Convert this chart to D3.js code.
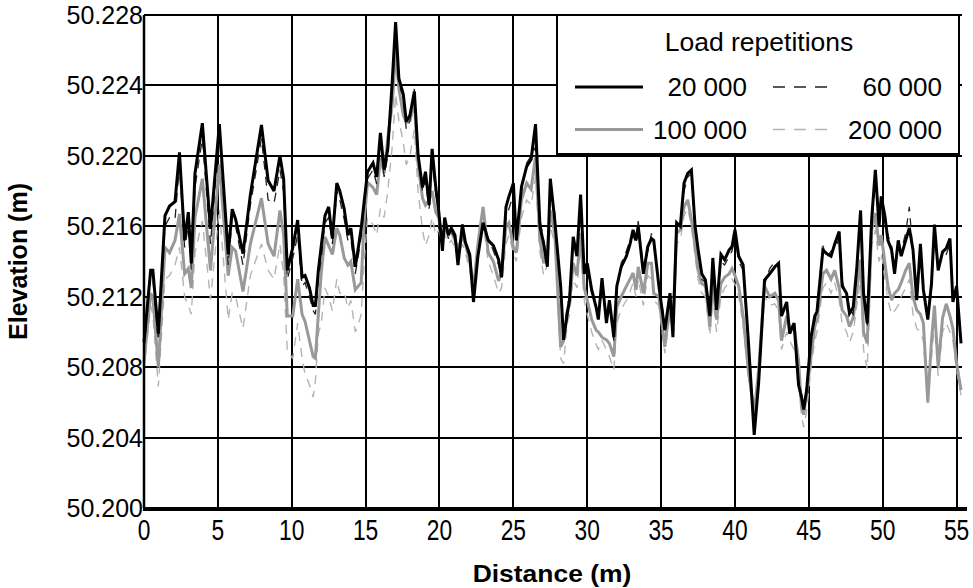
<!DOCTYPE html>
<html>
<head>
<meta charset="utf-8">
<script src="https://cdn.jsdelivr.net/npm/d3@7"></script>
<style>
body { margin: 0; background: #fff; }
text { font-family: Arial, "Liberation Sans", sans-serif; fill: #000; }
</style>
</head>
<body>
<svg id="chart" width="973" height="588"></svg>
<script>
// distance along the profile (m)
var distance = [0, 0.45, 0.6, 0.97, 1.42, 1.73, 2.1, 2.4, 2.75, 3,
	3.2, 3.45, 3.95, 4.5, 5.1, 5.7, 5.97, 6.2, 6.7, 7.2,
	7.95, 8.4, 8.8, 9.2, 9.45, 9.7, 10.07, 10.4, 10.7, 10.9,
	11.2, 11.45, 11.6, 11.8, 12, 12.25, 12.5, 12.75, 13.05, 13.25,
	13.55, 13.8, 14, 14.3, 14.5, 14.7, 14.9, 15.13, 15.5, 15.75,
	16, 16.25, 16.5, 16.8, 17.03, 17.25, 17.55, 17.75, 18, 18.3,
	18.55, 18.85, 19.05, 19.3, 19.5, 19.75, 19.95, 20.2, 20.35, 20.6,
	20.8, 21.05, 21.25, 21.55, 21.75, 22.05, 22.3, 22.6, 22.95, 23.3,
	23.65, 24, 24.2, 24.5, 24.7, 25, 25.2, 25.55, 25.9, 26.2,
	26.5, 26.8, 27.05, 27.3, 27.5, 27.8, 28.2, 28.4, 28.65, 28.8,
	29.05, 29.3, 29.55, 29.8, 30, 30.3, 30.6, 30.75, 31, 31.3,
	31.5, 31.8, 32, 32.3, 32.65, 32.9, 33.1, 33.3, 33.45, 33.8,
	34.1, 34.35, 34.5, 34.85, 35.25, 35.6, 35.8, 36.05, 36.3, 36.55,
	36.8, 37.05, 37.3, 37.5, 37.75, 38, 38.3, 38.5, 38.75, 39.05,
	39.3, 39.6, 39.8, 40, 40.25, 40.55, 40.9, 41.3, 41.6, 42,
	42.35, 42.7, 42.95, 43.15, 43.5, 43.7, 44, 44.3, 44.5, 44.65,
	44.85, 45.15, 45.4, 45.55, 45.95, 46.2, 46.5, 46.75, 47.05, 47.25,
	47.55, 47.75, 48, 48.25, 48.5, 48.7, 48.95, 49.25, 49.5, 49.75,
	49.9, 50.15, 50.35, 50.6, 50.8, 51.05, 51.25, 51.55, 51.8, 52.05,
	52.3, 52.55, 52.75, 53.05, 53.3, 53.5, 53.75, 54.05, 54.3, 54.55,
	54.75, 55, 55.3];

// elevation (m) after 20 000 load repetitions
var elev20k = [50.2094, 50.2135, 50.2135, 50.2099, 50.2166, 50.21715, 50.2174, 50.2202, 50.2152, 50.2168,
	50.2139, 50.2190, 50.22186, 50.21585, 50.2218, 50.2144, 50.21697, 50.2164, 50.21445, 50.2178,
	50.22175, 50.2186, 50.2180, 50.2200, 50.2187, 50.2135, 50.2148, 50.21635, 50.2131, 50.2132,
	50.2125, 50.2115, 50.2115, 50.2135, 50.2149, 50.2166, 50.2171, 50.2153, 50.21845, 50.2180,
	50.2170, 50.2155, 50.2159, 50.2137, 50.21475, 50.2159, 50.2174, 50.2191, 50.2196, 50.2188,
	50.2213, 50.2192, 50.2204, 50.2242, 50.2276, 50.2244, 50.2235, 50.22195, 50.2223, 50.22365,
	50.22005, 50.2182, 50.2191, 50.2172, 50.2204, 50.2182, 50.21685, 50.2146, 50.2165, 50.2155,
	50.2159, 50.2155, 50.2138, 50.2161, 50.2151, 50.2144, 50.2117, 50.2143, 50.2162, 50.2152,
	50.2149, 50.2141, 50.2131, 50.2171, 50.2177, 50.21845, 50.2152, 50.21825, 50.2194, 50.2198,
	50.2218, 50.2160, 50.2150, 50.2137, 50.2187, 50.21635, 50.2126, 50.20955, 50.21105, 50.2118,
	50.2154, 50.2143, 50.2178, 50.2133, 50.2139, 50.2124, 50.2114, 50.2107, 50.21305, 50.2105,
	50.2118, 50.2097, 50.2126, 50.2137, 50.2143, 50.2150, 50.2158, 50.2152, 50.2160, 50.2133,
	50.21485, 50.2153, 50.2152, 50.2126, 50.2101, 50.2122, 50.2097, 50.2162, 50.2160, 50.21845,
	50.2190, 50.2192, 50.2160, 50.2147, 50.2133, 50.21295, 50.2109, 50.2142, 50.21125, 50.2144,
	50.2141, 50.21465, 50.21485, 50.2158, 50.2143, 50.2138, 50.20955, 50.20415, 50.2071, 50.21295,
	50.2133, 50.2137, 50.2139, 50.2109, 50.2117, 50.2099, 50.2105, 50.2070, 50.2063, 50.2056,
	50.2067, 50.2097, 50.2109, 50.21115, 50.21465, 50.21445, 50.2143, 50.2150, 50.2157, 50.2126,
	50.2122, 50.21105, 50.2114, 50.2137, 50.2169, 50.2122, 50.2105, 50.2164, 50.2192, 50.2160,
	50.2177, 50.21655, 50.2152, 50.21465, 50.2133, 50.2152, 50.2143, 50.2152, 50.2159, 50.21465,
	50.2118, 50.2150, 50.2124, 50.2107, 50.21275, 50.2161, 50.2135, 50.21455, 50.21475, 50.2153,
	50.2117, 50.2126, 50.20935];

// elevation (m) after 60 000 load repetitions
var elev60k = [50.2090, 50.2132, 50.2130, 50.2095, 50.2160, 50.2165, 50.2164, 50.2195, 50.2148, 50.2160,
	50.2135, 50.2182, 50.2210, 50.2150, 50.2212, 50.2138, 50.2165, 50.2160, 50.2138, 50.2172,
	50.2210, 50.2175, 50.2173, 50.2192, 50.2180, 50.2130, 50.2142, 50.2155, 50.2126, 50.2128,
	50.2120, 50.2112, 50.2110, 50.2130, 50.2142, 50.2162, 50.2165, 50.2150, 50.2180, 50.2175,
	50.2164, 50.2152, 50.2153, 50.2133, 50.2143, 50.2154, 50.2170, 50.2187, 50.2192, 50.2184,
	50.2208, 50.2188, 50.2200, 50.2236, 50.2270, 50.2240, 50.2234, 50.2215, 50.2220, 50.2238,
	50.2198, 50.2180, 50.2186, 50.2170, 50.2198, 50.2178, 50.2168, 50.2148, 50.2163, 50.2153,
	50.2157, 50.2153, 50.2140, 50.2158, 50.2150, 50.2142, 50.2120, 50.2145, 50.2160, 50.2153,
	50.2146, 50.2138, 50.2132, 50.2165, 50.2170, 50.2178, 50.2155, 50.2180, 50.2196, 50.2200,
	50.2205, 50.2164, 50.2152, 50.2140, 50.2180, 50.2168, 50.2124, 50.2098, 50.2115, 50.2120,
	50.2150, 50.2145, 50.2170, 50.2136, 50.2135, 50.2122, 50.2115, 50.2110, 50.2125, 50.2108,
	50.2115, 50.2095, 50.2122, 50.2139, 50.2146, 50.2152, 50.2155, 50.2150, 50.2163, 50.2136,
	50.2146, 50.2156, 50.2150, 50.2128, 50.2104, 50.2120, 50.2100, 50.2158, 50.2162, 50.2180,
	50.2188, 50.2190, 50.2158, 50.2145, 50.2130, 50.2128, 50.2112, 50.2136, 50.2115, 50.2140,
	50.2138, 50.2143, 50.2146, 50.2155, 50.2140, 50.2135, 50.2093, 50.2046, 50.2073, 50.2127,
	50.2136, 50.2140, 50.2136, 50.2112, 50.2114, 50.2102, 50.2103, 50.2073, 50.2065, 50.2058,
	50.2065, 50.2099, 50.2106, 50.2114, 50.2149, 50.2142, 50.2146, 50.2147, 50.2153, 50.2129,
	50.2120, 50.2113, 50.2110, 50.2134, 50.2163, 50.2125, 50.2102, 50.2160, 50.2185, 50.2164,
	50.2173, 50.2162, 50.2155, 50.2149, 50.2136, 50.2150, 50.2146, 50.2156, 50.2171, 50.2144,
	50.2122, 50.2146, 50.2126, 50.2110, 50.2124, 50.2155, 50.2138, 50.2142, 50.2144, 50.2150,
	50.2120, 50.2123, 50.2096];

// elevation (m) after 100 000 load repetitions
var elev100k = [50.2083, 50.2122, 50.2120, 50.2080, 50.2148, 50.2145, 50.2152, 50.2167, 50.2133, 50.2136,
	50.2125, 50.2165, 50.2187, 50.2135, 50.2195, 50.2132, 50.2148, 50.2146, 50.2123, 50.2150,
	50.2176, 50.2150, 50.2143, 50.2169, 50.2155, 50.2109, 50.2109, 50.2130, 50.2110, 50.2106,
	50.2095, 50.2086, 50.2085, 50.2110, 50.2134, 50.2154, 50.2149, 50.2144, 50.2159, 50.2155,
	50.2142, 50.2138, 50.2140, 50.2124, 50.2126, 50.2128, 50.2163, 50.2185, 50.2182, 50.2178,
	50.2199, 50.2190, 50.2210, 50.2229, 50.2259, 50.22385, 50.2223, 50.2219, 50.2220, 50.2231,
	50.2195, 50.2176, 50.2172, 50.2175, 50.2180, 50.2168, 50.2165, 50.2152, 50.2159, 50.2156,
	50.2157, 50.2152, 50.21475, 50.2154, 50.2150, 50.2140, 50.2125, 50.2150, 50.2171, 50.2145,
	50.2140, 50.2129, 50.21335, 50.2160, 50.2162, 50.2148, 50.2145, 50.2175, 50.21845, 50.2181,
	50.21995, 50.2152, 50.2139, 50.2145, 50.2169, 50.2156, 50.20915, 50.2095, 50.2112, 50.2118,
	50.2139, 50.2132, 50.2156, 50.2125, 50.2118, 50.2107, 50.2101, 50.2100, 50.2097, 50.20955,
	50.20935, 50.2086, 50.2114, 50.2120, 50.2126, 50.2130, 50.21335, 50.2124, 50.2137, 50.2122,
	50.2139, 50.2139, 50.2122, 50.2120, 50.20915, 50.2116, 50.2105, 50.2156, 50.2158, 50.2171,
	50.2175, 50.2164, 50.21485, 50.2135, 50.21275, 50.2126, 50.2103, 50.2128, 50.2107, 50.21275,
	50.2131, 50.2133, 50.2136, 50.2132, 50.2126, 50.2109, 50.20785, 50.2054, 50.20785, 50.2126,
	50.2120, 50.2122, 50.2118, 50.2095, 50.2109, 50.2103, 50.2103, 50.2084, 50.20575, 50.2053,
	50.2065, 50.2086, 50.2103, 50.2107, 50.2133, 50.2135, 50.2130, 50.2135, 50.2125, 50.21125,
	50.2109, 50.2103, 50.2108, 50.2124, 50.2141, 50.2100, 50.20935, 50.2158, 50.21675, 50.2149,
	50.2155, 50.2139, 50.2126, 50.2118, 50.2122, 50.2124, 50.2128, 50.2135, 50.2139, 50.2120,
	50.21125, 50.2110, 50.2105, 50.2060, 50.2095, 50.2115, 50.2080, 50.2108, 50.2116, 50.2109,
	50.2102, 50.2082, 50.2067];

// elevation (m) after 200 000 load repetitions
var elev200k = [50.2078, 50.2115, 50.2110, 50.2069, 50.2130, 50.2132, 50.2138, 50.2148, 50.2120, 50.2115,
	50.2110, 50.2145, 50.2163, 50.21185, 50.2170, 50.2107, 50.2122, 50.2120, 50.2102, 50.2132,
	50.2150, 50.2135, 50.2130, 50.2150, 50.2132, 50.2089, 50.2085, 50.2105, 50.2085, 50.2076,
	50.2070, 50.2063, 50.2072, 50.2099, 50.2105, 50.2125, 50.2120, 50.2112, 50.2130, 50.2122,
	50.2123, 50.21135, 50.2118, 50.2100, 50.2104, 50.2110, 50.2140, 50.2165, 50.2161, 50.2155,
	50.2170, 50.2165, 50.2180, 50.2205, 50.2235, 50.2220, 50.2208, 50.2195, 50.2200, 50.2215,
	50.2180, 50.2158, 50.2149, 50.2155, 50.2165, 50.2155, 50.2158, 50.2148, 50.2156, 50.2150,
	50.2152, 50.2148, 50.2142, 50.2150, 50.2145, 50.2135, 50.2120, 50.2142, 50.2162, 50.2140,
	50.2132, 50.2122, 50.2125, 50.2150, 50.2155, 50.2145, 50.2140, 50.2165, 50.2175, 50.2172,
	50.2188, 50.2145, 50.2132, 50.2138, 50.2160, 50.2150, 50.2085, 50.2082, 50.2105, 50.2110,
	50.2130, 50.2125, 50.2148, 50.2118, 50.2110, 50.2100, 50.2093, 50.2090, 50.2095, 50.2090,
	50.2086, 50.20785, 50.2105, 50.2113, 50.2118, 50.2123, 50.2128, 50.2120, 50.2130, 50.2115,
	50.2132, 50.2130, 50.2118, 50.2115, 50.2088, 50.2110, 50.2100, 50.2150, 50.2152, 50.2166,
	50.2170, 50.2160, 50.2143, 50.2130, 50.2122, 50.2120, 50.2098, 50.2120, 50.2100, 50.2120,
	50.2125, 50.2128, 50.2130, 50.2127, 50.2120, 50.2104, 50.2075, 50.2052, 50.2075, 50.2120,
	50.2115, 50.2116, 50.2112, 50.2090, 50.2100, 50.2095, 50.2090, 50.2075, 50.2052, 50.2046,
	50.2055, 50.2080, 50.2095, 50.2100, 50.2125, 50.2128, 50.2122, 50.2128, 50.2118, 50.2105,
	50.2100, 50.2094, 50.2100, 50.2115, 50.2130, 50.2090, 50.2079, 50.2148, 50.2158, 50.2140,
	50.2145, 50.2130, 50.2118, 50.2110, 50.2112, 50.2115, 50.2120, 50.2125, 50.2130, 50.2110,
	50.2102, 50.2100, 50.2095, 50.20595, 50.2085, 50.2105, 50.2075, 50.2100, 50.2105, 50.2100,
	50.2095, 50.2078, 50.2064];

var xTicks = [0, 5, 10, 15, 20, 25, 30, 35, 40, 45, 50, 55];
var yTicks = [50.200, 50.204, 50.208, 50.212, 50.216, 50.220, 50.224, 50.228];

var series = [
	{name: "200 000", values: elev200k, color: "#b4b4b4", width: 1.4, dash: "9,7"},
	{name: "100 000", values: elev100k, color: "#999999", width: 3, dash: null},
	{name: "60 000", values: elev60k, color: "#222222", width: 1.3, dash: "9,7"},
	{name: "20 000", values: elev20k, color: "#000000", width: 3, dash: null}
];

var plotLeft = 144, plotRight = 962, plotTop = 15, plotBottom = 508;

var x = d3.scaleLinear().domain([0, 55.5]).range([plotLeft, 964]);
var y = d3.scaleLinear().domain([50.200, 50.228]).range([plotBottom, plotTop]);

var svg = d3.select("#chart");

// grid
var grid = svg.append("g").attr("class", "grid");
grid.selectAll("line.v")
	.data(xTicks.filter(function(d) { return d > 0; }))
	.enter().append("line")
	.attr("class", "v")
	.attr("x1", function(d) { return Math.round(x(d)); })
	.attr("x2", function(d) { return Math.round(x(d)); })
	.attr("y1", plotTop)
	.attr("y2", plotBottom)
	.attr("stroke", "#000")
	.attr("stroke-width", 2);
grid.selectAll("line.h")
	.data(yTicks.filter(function(d) { return d > 50.2001; }))
	.enter().append("line")
	.attr("class", "h")
	.attr("x1", plotLeft)
	.attr("x2", plotRight)
	.attr("y1", function(d) { return Math.round(y(d)); })
	.attr("y2", function(d) { return Math.round(y(d)); })
	.attr("stroke", "#000")
	.attr("stroke-width", 2);

// profile lines
var line = d3.line()
	.x(function(d, i) { return x(distance[i]); })
	.y(function(d) { return y(d); });

svg.append("g").attr("class", "lines")
	.selectAll("path")
	.data(series)
	.enter().append("path")
	.attr("d", function(s) { return line(s.values); })
	.attr("fill", "none")
	.attr("stroke", function(s) { return s.color; })
	.attr("stroke-width", function(s) { return s.width; })
	.attr("stroke-dasharray", function(s) { return s.dash; })
	.attr("stroke-linejoin", "miter")
	.attr("stroke-miterlimit", 3);

// axes
svg.append("line")
	.attr("x1", plotLeft).attr("x2", plotLeft)
	.attr("y1", plotTop).attr("y2", plotBottom)
	.attr("stroke", "#000").attr("stroke-width", 2.5);
svg.append("line")
	.attr("x1", plotLeft - 1).attr("x2", 967)
	.attr("y1", plotBottom + 1).attr("y2", plotBottom + 1)
	.attr("stroke", "#000").attr("stroke-width", 4);

svg.append("g").selectAll("text")
	.data(yTicks)
	.enter().append("text")
	.attr("x", plotLeft - 1)
	.attr("y", function(d) { return y(d) + 9; })
	.attr("text-anchor", "end")
	.style("font-size", "25px")
	.text(function(d) { return d3.format(".3f")(d); });

// x tick labels are drawn narrow and tall, as in the original
svg.append("g").selectAll("text")
	.data(xTicks)
	.enter().append("text")
	.attr("transform", function(d) { return "translate(" + x(d) + ",540) scale(0.76,1)"; })
	.attr("text-anchor", "middle")
	.style("font-size", "30px")
	.text(function(d) { return d; });

svg.append("text")
	.attr("transform", "translate(" + ((plotLeft + 960) / 2) + ",582) scale(1.15,1)")
	.attr("text-anchor", "middle")
	.style("font-size", "23px")
	.style("font-weight", "bold")
	.text("Distance (m)");

svg.append("text")
	.attr("transform", "translate(27," + ((plotTop + plotBottom) / 2) + ") rotate(-90)")
	.attr("text-anchor", "middle")
	.style("font-size", "25px")
	.style("font-weight", "bold")
	.text("Elevation (m)");

// legend
var legend = svg.append("g").attr("class", "legend");
legend.append("rect")
	.attr("x", 557).attr("y", 15)
	.attr("width", 402).attr("height", 139)
	.attr("fill", "#fff")
	.attr("stroke", "#000")
	.attr("stroke-width", 2);
legend.append("text")
	.attr("x", 759).attr("y", 51)
	.attr("text-anchor", "middle")
	.style("font-size", "26.5px")
	.text("Load repetitions");

var legendItems = [
	{s: series[3], lx: 575, lw: 68, tx: 747, ly: 87},
	{s: series[2], lx: 773, lw: 54, tx: 942, ly: 87},
	{s: series[1], lx: 575, lw: 68, tx: 747, ly: 129.5},
	{s: series[0], lx: 773, lw: 54, tx: 942, ly: 129.5}
];
legendItems.forEach(function(it) {
	legend.append("line")
		.attr("x1", it.lx).attr("x2", it.lx + it.lw)
		.attr("y1", it.ly).attr("y2", it.ly)
		.attr("stroke", it.s.color)
		.attr("stroke-width", it.s.width)
		.attr("stroke-dasharray", it.s.dash ? "12,9" : null);
	legend.append("text")
		.attr("x", it.tx).attr("y", it.ly + 9)
		.attr("text-anchor", "end")
		.style("font-size", "26px")
		.text(it.s.name);
});
</script>
</body>
</html>
